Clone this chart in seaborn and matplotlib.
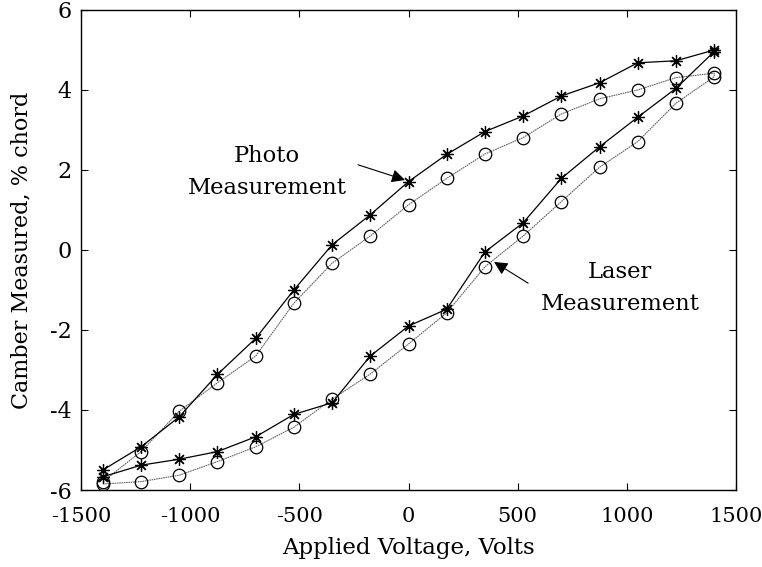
import numpy as np
import pandas as pd
import matplotlib
matplotlib.use("Agg")
import matplotlib.pyplot as plt
import seaborn as sns

# Applied voltage sweep: up from -1400 V to +1400 V, then back down
volts_up = [-1400, -1225, -1050, -875, -700, -525, -350, -175, 0,
            175, 350, 525, 700, 875, 1050, 1225, 1400]
volts_down = volts_up[::-1]

# Camber (% chord) from photographs
photo_up = [-5.67, -5.38, -5.23, -5.04, -4.67, -4.11, -3.82, -2.65, -1.90,
            -1.48, -0.05, 0.68, 1.79, 2.58, 3.32, 4.04, 4.96]
photo_down = [5.00, 4.73, 4.68, 4.18, 3.85, 3.35, 2.96, 2.39, 1.71,
              0.88, 0.13, -1.00, -2.21, -3.11, -4.17, -4.92, -5.50]

# Camber (% chord) from laser displacement sensor
laser_up = [-5.85, -5.79, -5.63, -5.29, -4.92, -4.43, -3.73, -3.10, -2.35,
            -1.57, -0.42, 0.35, 1.21, 2.07, 2.71, 3.67, 4.33]
laser_down = [4.42, 4.31, 4.00, 3.78, 3.40, 2.81, 2.40, 1.79, 1.13,
              0.35, -0.33, -1.33, -2.65, -3.32, -4.03, -5.04, -5.79]

x_ticks = [-1500, -1000, -500, 0, 500, 1000, 1500]
y_ticks = [-6, -4, -2, 0, 2, 4, 6]

photo = pd.DataFrame({"volts": volts_up + volts_down,
                      "camber": photo_up + photo_down})
laser = pd.DataFrame({"volts": volts_up + volts_down,
                      "camber": laser_up + laser_down})

sns.set_theme(style="white")
plt.rcParams["font.family"] = ["DejaVu Serif"]
plt.rcParams["axes.linewidth"] = 1.0
plt.rcParams["text.color"] = "black"
plt.rcParams["axes.labelcolor"] = "black"

fig = plt.figure(figsize=(7.62, 5.67), dpi=100)
ax = fig.add_axes([0.1063, 0.1358, 0.8596, 0.8466])

sns.lineplot(data=laser, x="volts", y="camber", sort=False, estimator=None,
             ax=ax, color="0.4", linewidth=0.8, linestyle=(0, (1.5, 0.6)),
             marker="o", markersize=9, markerfacecolor="none",
             markeredgecolor="black", markeredgewidth=0.9)
sns.lineplot(data=photo, x="volts", y="camber", sort=False, estimator=None,
             ax=ax, color="black", linewidth=0.9,
             marker=(8, 2, 0), markersize=9, markeredgecolor="black",
             markeredgewidth=0.9)

ax.set_xlim(-1500, 1500)
ax.set_ylim(-6, 6)
ax.set_xticks(x_ticks)
ax.set_yticks(y_ticks)
ax.set_xticklabels([str(v) for v in x_ticks])
ax.set_yticklabels([str(v) for v in y_ticks])
ax.tick_params(direction="in", top=True, right=True, bottom=True, left=True,
               length=5, width=0.8, colors="black")
ax.tick_params(axis="x", pad=12, labelsize=15)
ax.tick_params(axis="y", pad=7, labelsize=16)
for s in ax.spines.values():
    s.set_color("black")
    s.set_visible(True)

ax.set_xlabel("Applied Voltage, Volts", fontsize=16.5, labelpad=8)
ax.set_ylabel("Camber Measured, % chord", fontsize=16, labelpad=12)

# Text labels and pointer arrows
ax.text(-648, 1.95, "Photo\nMeasurement", ha="center", va="center",
        fontsize=16.3, linespacing=1.55)
ax.annotate("", xy=(-16, 1.75), xytext=(-231, 2.13),
            arrowprops=dict(arrowstyle="-|>", color="black", lw=0.8,
                            mutation_scale=20, shrinkA=0, shrinkB=0))
ax.text(969, -0.95, "Laser\nMeasurement", ha="center", va="center",
        fontsize=16.3, linespacing=1.55)
ax.annotate("", xy=(392, -0.30), xytext=(548, -0.83),
            arrowprops=dict(arrowstyle="-|>", color="black", lw=0.8,
                            mutation_scale=20, shrinkA=0, shrinkB=0))

fig.savefig("out.png", dpi=100)
